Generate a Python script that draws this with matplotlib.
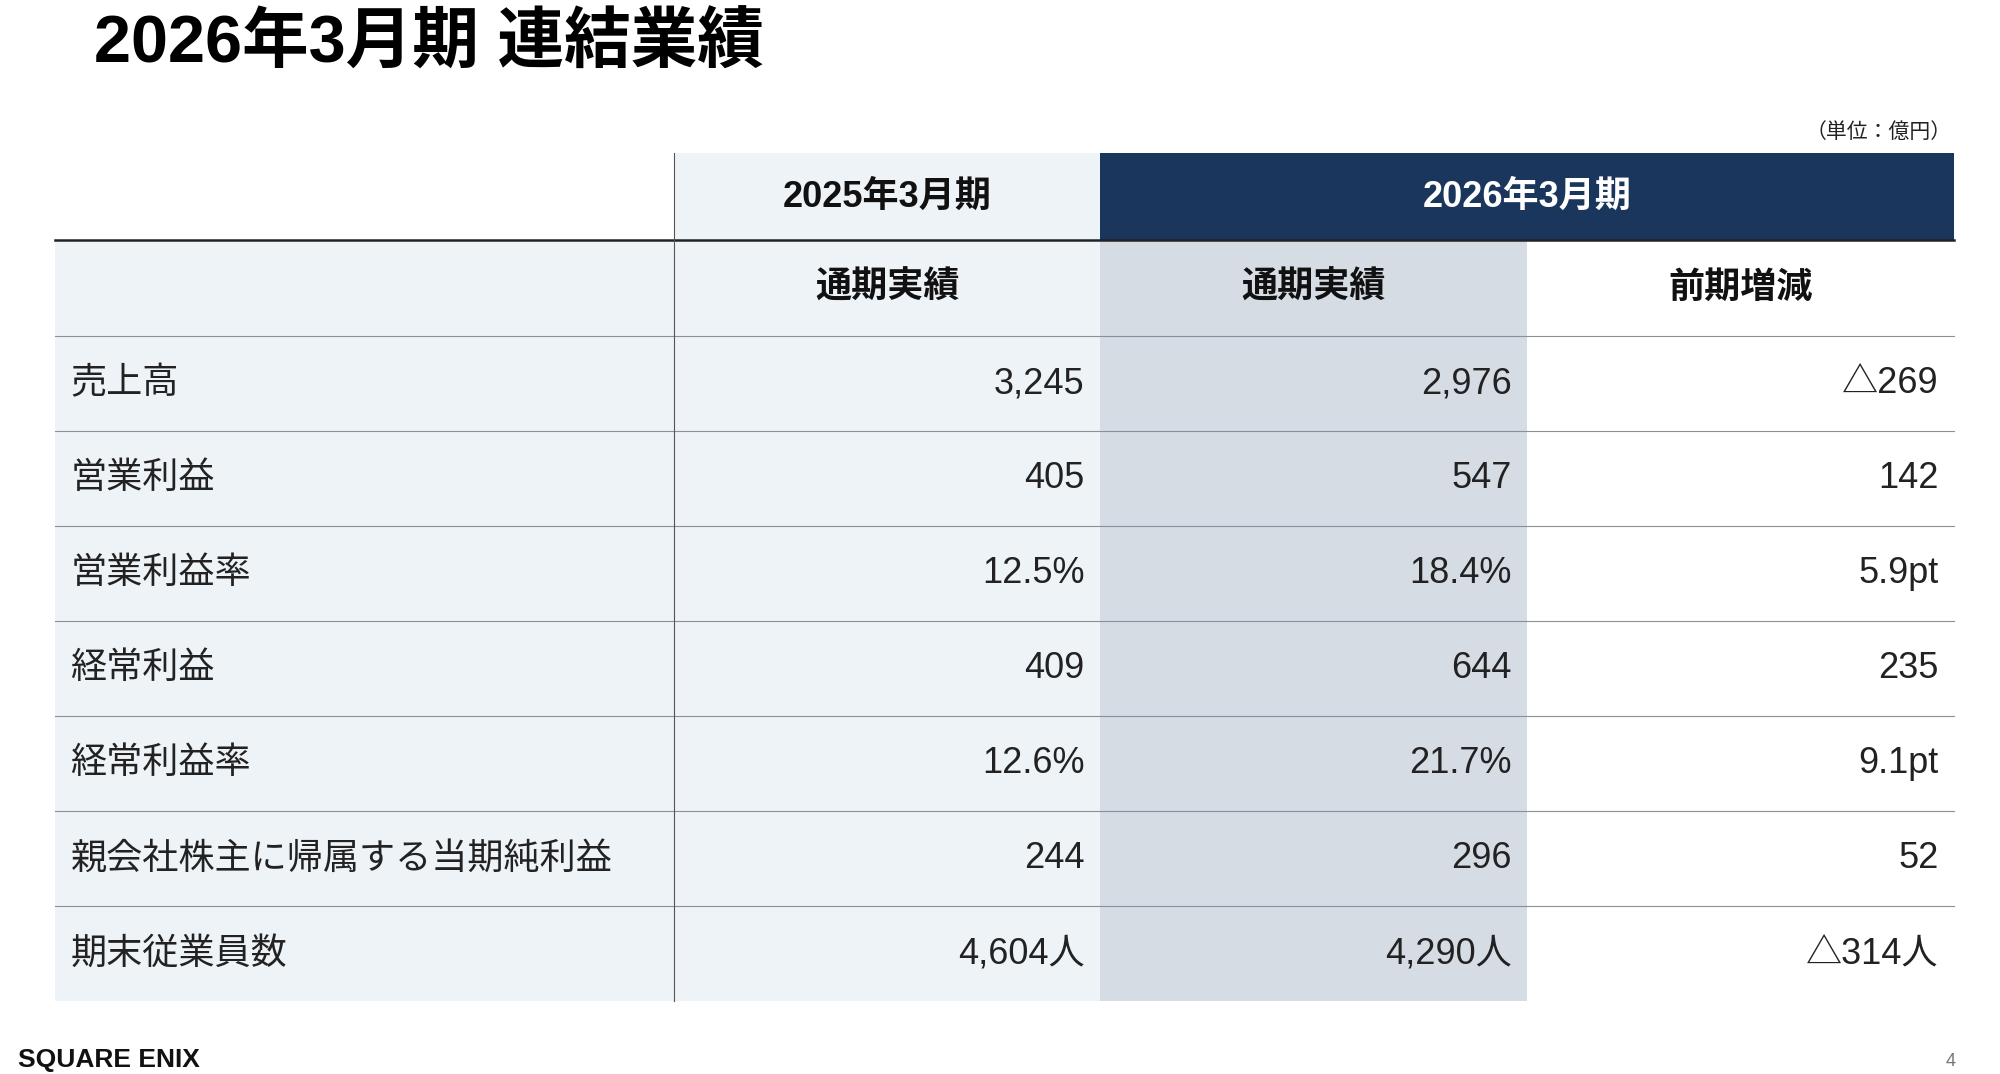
import matplotlib.pyplot as plt
from matplotlib.patches import Rectangle

plt.rcParams['font.family'] = ['Liberation Sans', 'Noto Sans CJK JP', 'DejaVu Sans']


def main():

    # table rows: label, FY2025 actual, FY2026 actual, change
    rows = [['売上高', '3,245', '2,976', '△269'],
            ['営業利益', '405', '547', '142'],
            ['営業利益率', '12.5%', '18.4%', '5.9pt'],
            ['経常利益', '409', '644', '235'],
            ['経常利益率', '12.6%', '21.7%', '9.1pt'],
            ['親会社株主に帰属する当期純利益', '244', '296', '52'],
            ['期末従業員数', '4,604人', '4,290人', '△314人']]

    col_x = [43, 526, 858, 1191, 1524]  # column edges (page units)
    top = 120
    head1 = 188
    head2 = 263
    row_h = 74.3

    light = '#eef3f8'
    grey = '#d6dce4'
    navy = '#1b365d'

    fig = plt.figure(figsize=(20, 10.74), dpi=100)
    ax = fig.add_axes([0, 0, 1, 1])
    ax.set_xlim(0, 1560)
    ax.set_ylim(840, 0)
    ax.axis('off')

    bottom = head2 + row_h * len(rows)

    # backgrounds
    ax.add_patch(Rectangle((col_x[0], head1), col_x[1] - col_x[0], bottom - head1, color=light, lw=0))
    ax.add_patch(Rectangle((col_x[1], top), col_x[2] - col_x[1], bottom - top, color=light, lw=0))
    ax.add_patch(Rectangle((col_x[2], head1), col_x[3] - col_x[2], bottom - head1, color=grey, lw=0))
    ax.add_patch(Rectangle((col_x[2], top), col_x[4] - col_x[2], head1 - top, color=navy, lw=0))

    # header texts
    ax.text((col_x[1] + col_x[2]) / 2, (top + head1) / 2, '2025年3月期', ha='center', va='center',
            fontsize=26, fontweight='bold', color='#111111')
    ax.text((col_x[2] + col_x[4]) / 2, (top + head1) / 2, '2026年3月期', ha='center', va='center',
            fontsize=26, fontweight='bold', color='white')
    for i, lab in enumerate(['通期実績', '通期実績', '前期増減']):
        ax.text((col_x[i + 1] + col_x[i + 2]) / 2, (head1 + head2) / 2, lab, ha='center', va='center',
                fontsize=26, fontweight='bold', color='#111111')

    # lines
    ax.plot([col_x[0], col_x[4]], [head1, head1], color='#222222', lw=1.8)
    for i in range(len(rows)):
        y = head2 + row_h * i
        ax.plot([col_x[0], col_x[4]], [y, y], color='#8a9099', lw=0.8)
    ax.plot([col_x[1], col_x[1]], [top, bottom], color='#555555', lw=0.8)

    # data
    for i, r in enumerate(rows):
        yc = head2 + row_h * (i + 0.5)
        ax.text(col_x[0] + 12, yc, r[0], ha='left', va='center', fontsize=26, color='#222222')
        for j in range(3):
            ax.text(col_x[j + 2] - 12, yc, r[j + 1], ha='right', va='center', fontsize=26, color='#222222')

    # title and notes
    ax.text(73, 35, '2026年3月期 連結業績', ha='left', va='center', fontsize=48, fontweight='bold', color='black')
    ax.text(1522, 103, '（単位：億円）', ha='right', va='center', fontsize=15, color='#222222')
    ax.text(14, 829, 'SQUARE ENIX', ha='left', va='center', fontsize=19, fontweight='bold', color='#111111')
    ax.text(1525, 830, '4', ha='right', va='center', fontsize=13, color='#777777')

    fig.savefig('out.png', dpi=100)


main()
